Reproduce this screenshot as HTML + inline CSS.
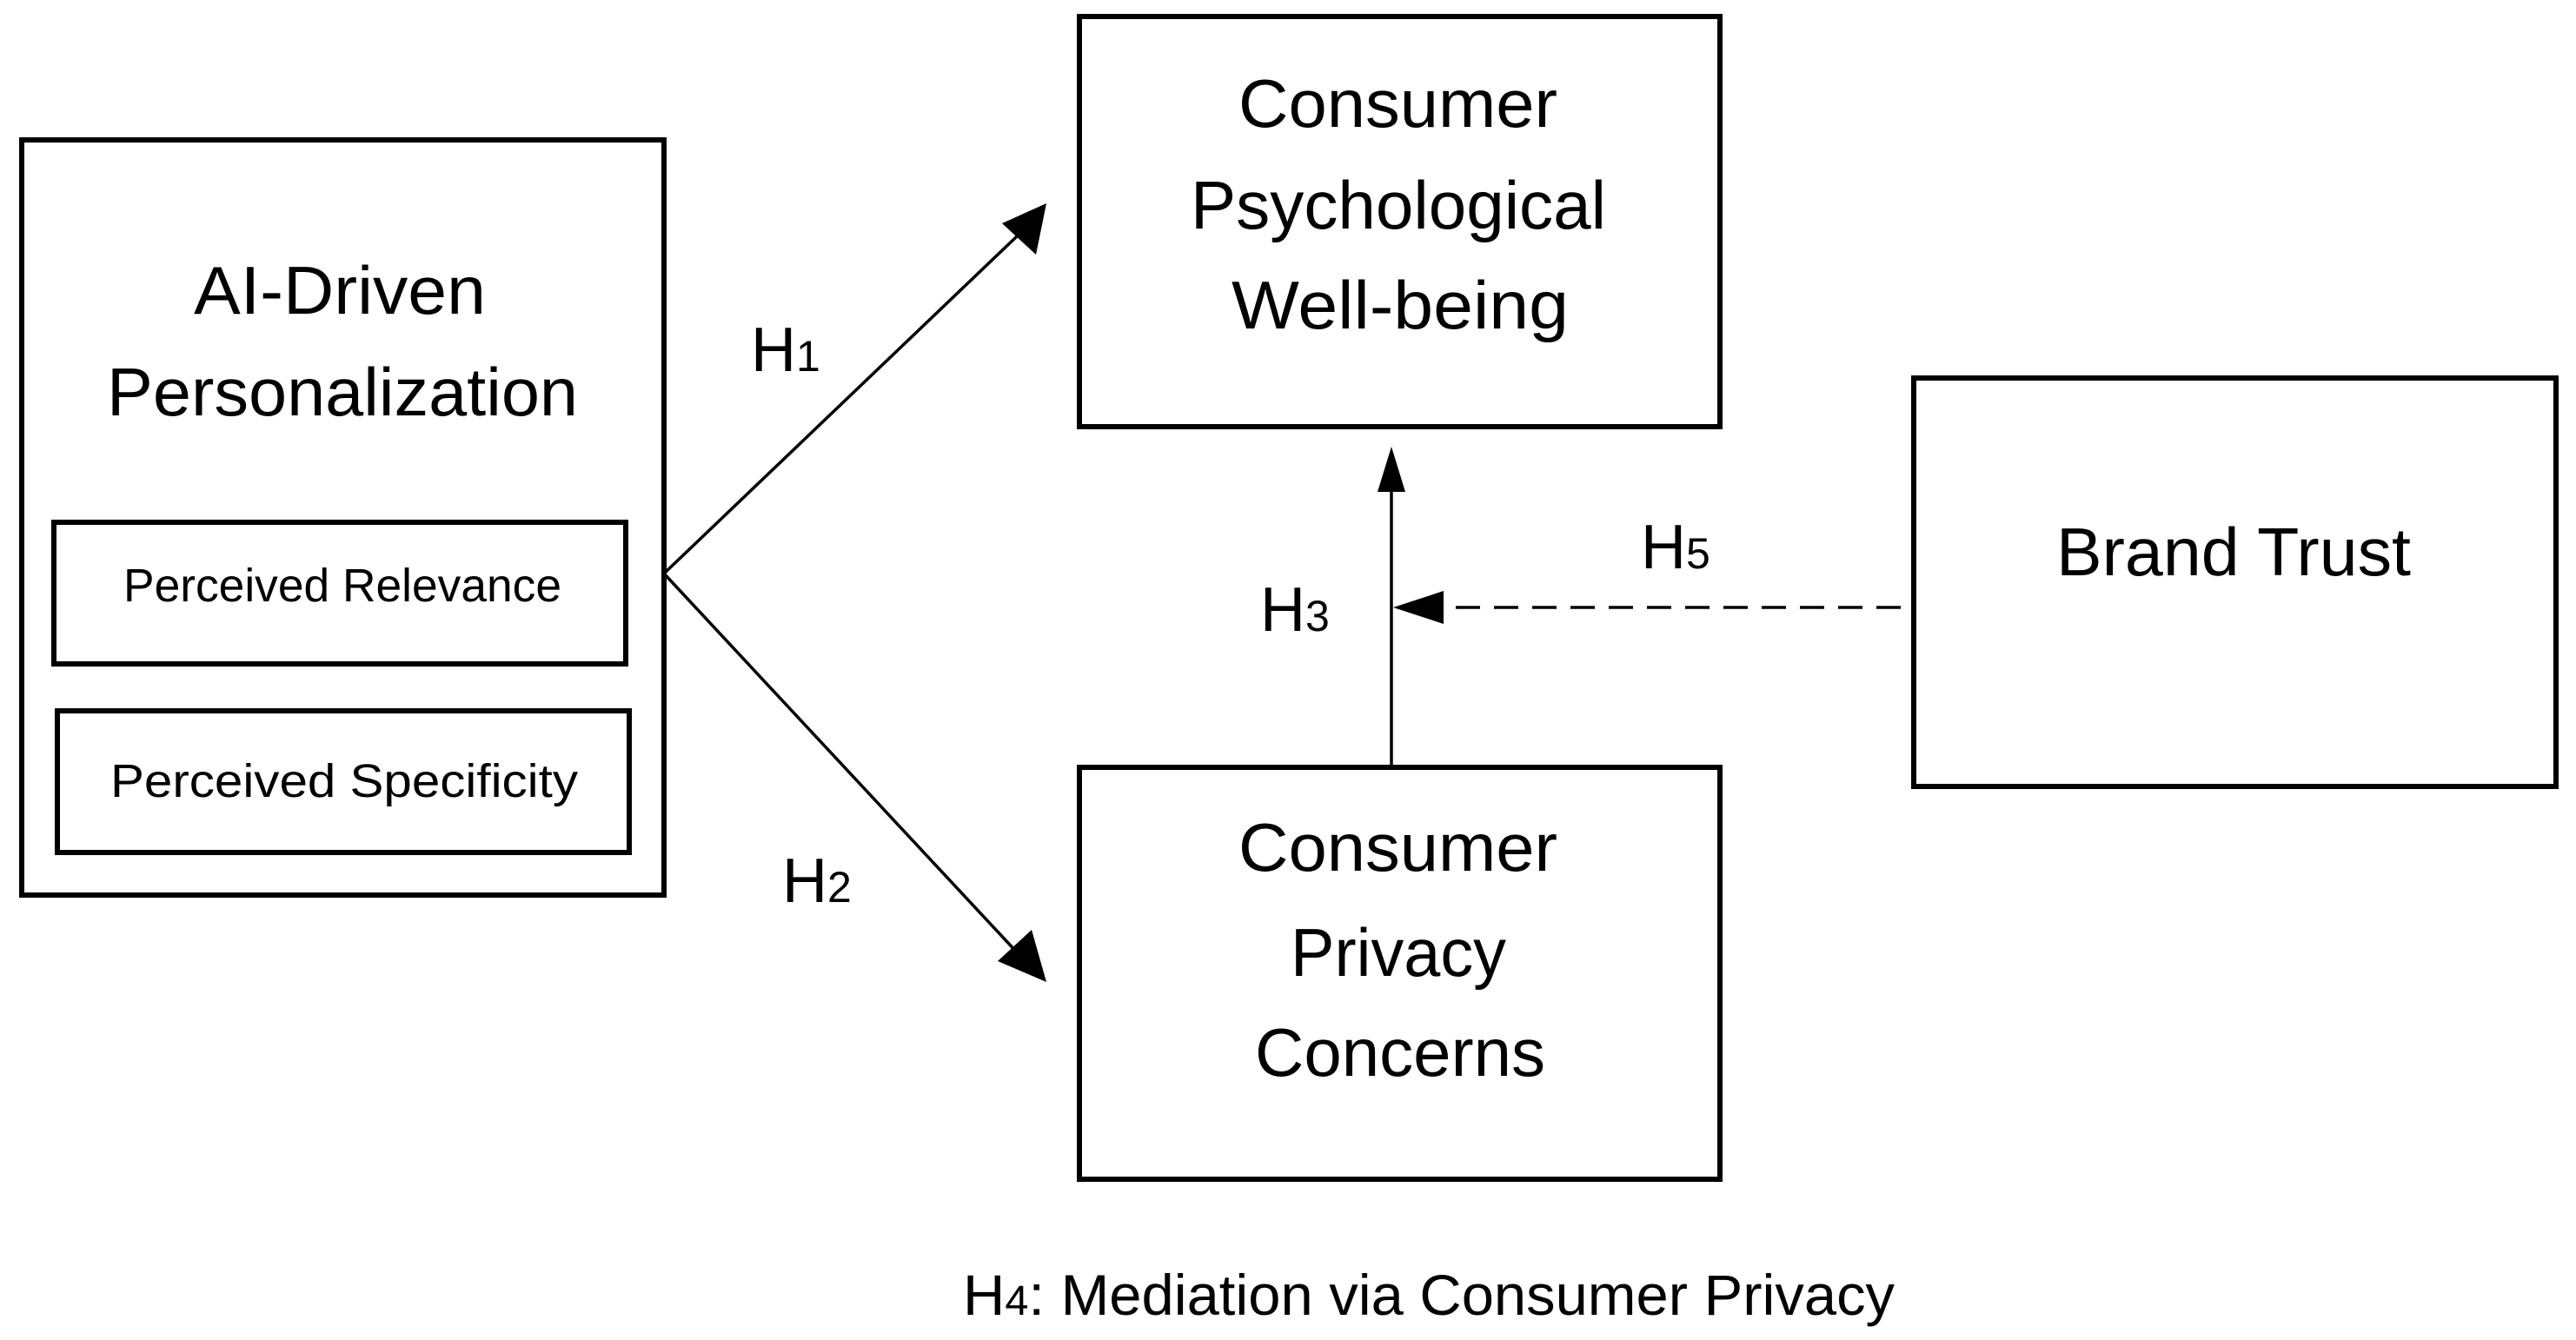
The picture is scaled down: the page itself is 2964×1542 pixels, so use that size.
<!DOCTYPE html>
<html><head><meta charset="utf-8"><style>html,body{margin:0;padding:0;background:#fff}svg{display:block}</style></head>
<body>
<svg width="2964" height="1542" viewBox="0 0 2964 1542" xmlns="http://www.w3.org/2000/svg" font-family="'Liberation Sans', sans-serif" fill="#000">
<g fill="none" stroke="#000" stroke-width="6">
<rect x="25" y="161" width="739" height="869"/>
<rect x="62" y="601" width="658" height="163"/>
<rect x="66" y="818" width="658" height="163"/>
<rect x="1242" y="19" width="737" height="472"/>
<rect x="1242" y="883" width="737" height="474"/>
<rect x="2202" y="435" width="739" height="470"/>
</g>
<g stroke="#000" stroke-width="3.5" fill="none">
<line x1="764" y1="660" x2="1170" y2="272"/>
<line x1="764" y1="660" x2="1172" y2="1098"/>
<line x1="1601" y1="883" x2="1601" y2="565"/>
<line x1="2187" y1="699" x2="1660" y2="699" stroke-dasharray="28,16"/>
</g>
<polygon points="1204,234 1192,293 1153,257"/>
<polygon points="1204,1130 1148,1106 1187,1070"/>
<polygon points="1601,514 1585,566 1617,566"/>
<polygon points="1603,699 1661,680 1661,718"/>
<g font-size="78">
<text x="1425" y="146" textLength="367" lengthAdjust="spacingAndGlyphs">Consumer</text>
<text x="1370" y="263" textLength="478" lengthAdjust="spacingAndGlyphs">Psychological</text>
<text x="1417" y="378" textLength="388" lengthAdjust="spacingAndGlyphs">Well-being</text>
<text x="1425" y="1002" textLength="367" lengthAdjust="spacingAndGlyphs">Consumer</text>
<text x="1485" y="1123" textLength="248" lengthAdjust="spacingAndGlyphs">Privacy</text>
<text x="1444" y="1238" textLength="334" lengthAdjust="spacingAndGlyphs">Concerns</text>
<text x="2366" y="662" textLength="408" lengthAdjust="spacingAndGlyphs">Brand Trust</text>
<text x="223" y="361" textLength="336" lengthAdjust="spacingAndGlyphs">AI-Driven</text>
<text x="123" y="478" textLength="542" lengthAdjust="spacingAndGlyphs">Personalization</text>
</g>
<g font-size="54">
<text x="142" y="692" textLength="504" lengthAdjust="spacingAndGlyphs">Perceived Relevance</text>
<text x="127" y="917" textLength="538" lengthAdjust="spacingAndGlyphs">Perceived Specificity</text>
</g>
<g font-size="72">
<text x="864" y="427">H<tspan font-size="50">1</tspan></text>
<text x="900" y="1038">H<tspan font-size="50">2</tspan></text>
<text x="1450" y="726">H<tspan font-size="50">3</tspan></text>
<text x="1888" y="654">H<tspan font-size="50">5</tspan></text>
</g>
<text x="1108" y="1513" font-size="66" textLength="1072" lengthAdjust="spacingAndGlyphs">H<tspan font-size="48">4</tspan>: Mediation via Consumer Privacy</text>
</svg>
</body></html>
